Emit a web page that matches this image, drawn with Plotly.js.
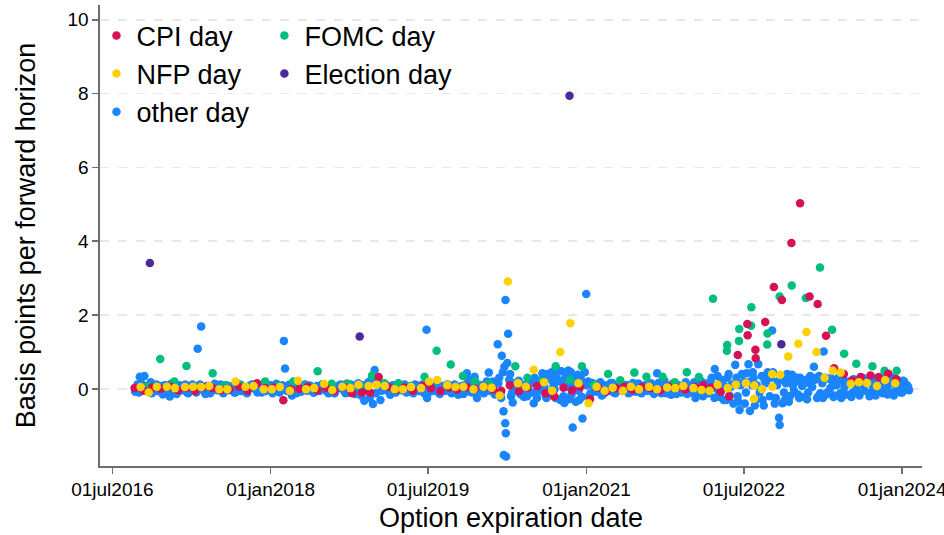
<!DOCTYPE html>
<html>
<head>
<meta charset="utf-8">
<script src="https://cdn.plot.ly/plotly-3.0.1.min.js"></script>
<style>html,body{margin:0;padding:0;background:#fff;}#chart{width:944px;height:535px;}</style>
</head>
<body>
<div id="chart"></div>
<script>
// ---- axis ticks ----
const xTickVals = ["2016-07-01","2018-01-01","2019-07-01","2021-01-01","2022-07-01","2024-01-01"];
const xTickText = ["01jul2016","01jan2018","01jul2019","01jan2021","01jul2022","01jan2024"];
const yTickVals = [0,2,4,6,8,10];

// ---- Election days ----
const electionDates = ["2016-11-08","2018-11-06","2020-11-03","2022-11-08"];
const electionVals  = [3.41, 1.42, 7.94, 1.21];

// ---- FOMC days ----
const fomcDates = ["2016-11-02","2016-12-14","2017-02-01","2017-03-15","2017-05-03","2017-06-14","2017-07-26","2017-09-20","2017-11-01","2017-12-13",
  "2018-01-31","2018-03-21","2018-05-02","2018-06-13","2018-08-01","2018-09-26","2018-11-08","2018-12-19",
  "2019-01-30","2019-03-20","2019-05-01","2019-06-19","2019-07-31","2019-09-18","2019-10-30","2019-12-11",
  "2020-01-29","2020-04-29","2020-06-10","2020-07-29","2020-09-16","2020-11-05","2020-12-16",
  "2021-01-27","2021-03-17","2021-04-28","2021-06-16","2021-07-28","2021-09-22","2021-11-03","2021-12-15",
  "2022-01-26","2022-03-16","2022-05-04","2022-05-03","2022-06-15","2022-06-14","2022-07-27","2022-07-26","2022-09-21","2022-09-20","2022-11-02","2022-12-14",
  "2023-02-01","2023-03-22","2023-05-03","2023-06-14","2023-07-26","2023-09-20","2023-11-01","2023-12-13"];
const fomcVals = [0.08,0.81,0.20,0.62,0.05,0.42,0.10,0.11,0.06,0.20,
  0.08,0.20,0.06,0.48,0.14,0.14,0.05,0.36,
  0.15,0.15,0.08,0.33,1.03,0.66,0.35,0.20,
  0.14,0.61,0.30,0.20,0.61,0.25,0.61,
  0.11,0.40,0.23,0.44,0.33,0.33,0.18,0.45,
  0.32,2.44,1.19,1.03,1.62,1.30,2.21,1.71,1.50,1.20,2.50,2.80,
  2.46,3.29,1.60,0.95,0.68,0.61,0.49,0.49];

// ---- CPI days ----
const cpiDates = ["2016-09-16","2016-10-18","2016-11-17","2016-12-15",
  "2017-01-18","2017-02-15","2017-03-15","2017-04-14","2017-05-12","2017-06-14","2017-07-14","2017-08-11","2017-09-14","2017-10-13","2017-11-15","2017-12-13",
  "2018-01-12","2018-02-14","2018-03-13","2018-04-11","2018-05-10","2018-06-12","2018-07-12","2018-08-10","2018-09-13","2018-10-11","2018-11-14","2018-12-12",
  "2019-01-11","2019-02-13","2019-03-12","2019-04-10","2019-05-10","2019-06-12","2019-07-11","2019-08-13","2019-09-12","2019-10-10","2019-11-13","2019-12-11",
  "2020-01-14","2020-02-13","2020-03-11","2020-04-10","2020-05-12","2020-06-10","2020-07-14","2020-08-12","2020-09-11","2020-10-13","2020-11-12","2020-12-10",
  "2021-01-13","2021-02-10","2021-03-10","2021-04-13","2021-05-12","2021-06-10","2021-07-13","2021-08-11","2021-09-14","2021-10-13","2021-11-10","2021-12-10",
  "2022-01-12","2022-02-10","2022-03-10","2022-04-12","2022-05-11","2022-06-10","2022-07-13","2022-07-14","2022-08-10","2022-08-11","2022-09-13","2022-10-13","2022-11-10","2022-12-13",
  "2023-01-12","2023-02-14","2023-03-14","2023-04-12","2023-05-10","2023-06-13","2023-07-12","2023-08-10","2023-09-13","2023-10-12","2023-11-14","2023-12-12"];
const cpiVals = [0.02,-0.05,0.04,0.00,
  0.06,-0.04,0.03,-0.06,0.05,0.02,-0.03,-0.01,0.06,-0.05,0.15,0.02,
  0.04,-0.31,-0.02,0.00,0.06,-0.04,0.03,-0.06,0.05,-0.12,-0.10,-0.10,
  0.32,0.05,-0.03,0.04,-0.05,0.08,0.02,-0.06,0.04,-0.02,0.05,0.00,
  0.06,-0.02,-0.05,0.10,-0.06,0.04,0.08,-0.12,-0.21,0.03,-0.04,0.05,
  -0.28,0.04,-0.07,0.02,0.06,-0.03,0.05,0.02,-0.04,0.06,0.03,-0.02,
  0.05,0.10,0.04,-0.08,-0.21,0.92,1.76,1.45,1.06,0.83,1.81,2.76,2.41,3.95,
  5.03,2.50,2.30,1.44,0.56,0.40,0.23,0.32,0.36,0.32,0.41,0.26];

// ---- NFP days ----
const nfpDates = ["2016-10-07","2016-11-04","2016-12-02",
  "2017-01-06","2017-02-03","2017-03-10","2017-04-07","2017-05-05","2017-06-02","2017-07-07","2017-08-04","2017-09-01","2017-10-06","2017-11-03","2017-12-08",
  "2018-01-05","2018-02-02","2018-03-09","2018-04-06","2018-05-04","2018-06-01","2018-07-06","2018-08-03","2018-09-07","2018-10-05","2018-11-02","2018-12-07",
  "2019-01-04","2019-02-01","2019-03-08","2019-04-05","2019-05-03","2019-06-07","2019-07-05","2019-08-02","2019-09-06","2019-10-04","2019-11-01","2019-12-06",
  "2020-01-10","2020-02-07","2020-03-06","2020-04-03","2020-05-08","2020-06-05","2020-07-02","2020-08-07","2020-09-04","2020-10-02","2020-11-06","2020-12-04",
  "2021-01-08","2021-02-05","2021-03-05","2021-04-02","2021-05-07","2021-06-04","2021-07-02","2021-08-06","2021-09-03","2021-10-08","2021-11-05","2021-12-03",
  "2022-01-07","2022-02-04","2022-03-04","2022-04-01","2022-05-06","2022-06-03","2022-07-08","2022-08-05","2022-08-06","2022-09-02","2022-10-07","2022-10-08","2022-11-04","2022-12-02",
  "2023-01-06","2023-02-03","2023-03-10","2023-04-07","2023-05-05","2023-06-02","2023-07-07","2023-08-04","2023-09-01","2023-10-06","2023-11-03","2023-12-08"];
const nfpVals = [0.05,-0.10,0.06,
  0.06,0.02,0.05,0.06,0.05,0.08,-0.01,-0.01,0.20,0.06,0.08,-0.01,
  -0.01,0.05,-0.05,0.22,-0.01,0.02,0.14,-0.03,0.06,0.02,0.11,0.08,
  0.11,0.08,-0.01,-0.01,0.05,0.02,0.20,0.24,0.10,0.05,0.06,-0.01,
  0.06,0.03,-0.18,2.91,0.15,0.06,0.52,0.18,-0.05,1.00,1.78,0.15,
  -0.39,0.06,-0.05,0.03,-0.05,0.06,-0.01,0.06,-0.01,0.04,0.02,0.08,
  0.02,-0.03,-0.05,0.11,0.02,0.11,0.15,-0.27,0.09,-0.01,0.40,0.06,0.38,0.88,
  1.22,1.54,1.00,0.30,0.50,0.44,0.14,0.18,0.16,0.08,0.24,0.15];

// ---- other days (part A) ----
const otherDatesA = [
  "2016-09-18","2016-09-26","2016-10-04","2016-10-12","2016-10-20","2016-10-28","2016-11-04","2016-11-15","2016-11-24","2016-12-05","2016-12-15","2016-12-23",
  "2017-01-05","2017-01-16","2017-01-25","2017-02-03","2017-02-13","2017-02-23","2017-03-06","2017-03-17","2017-03-27","2017-04-05","2017-04-13","2017-04-23",
  "2017-05-05","2017-05-15","2017-05-25","2017-06-05","2017-06-16","2017-06-26","2017-07-06","2017-07-17","2017-07-27","2017-08-07","2017-08-17","2017-08-28",
  "2017-09-07","2017-09-18","2017-09-27","2017-10-05","2017-10-16","2017-10-26","2017-11-06","2017-11-16","2017-11-27","2017-12-06","2017-12-15","2017-12-27",
  "2018-01-08","2018-01-18","2018-01-29","2018-02-07","2018-02-16","2018-02-20","2018-02-26","2018-03-07","2018-03-16","2018-03-27","2018-04-06","2018-04-17","2018-04-26",
  "2018-05-07","2018-05-17","2018-05-29","2018-06-07","2018-06-19","2018-06-28","2018-07-09","2018-07-19","2018-07-30","2018-08-08","2018-08-17","2018-08-28",
  "2018-09-07","2018-09-18","2018-09-27","2018-10-05","2018-10-16","2018-10-26","2018-11-06","2018-11-15","2018-11-22","2018-11-28","2018-12-06","2018-12-14","2018-12-22","2018-12-28",
  "2019-01-07","2019-01-17","2019-01-28","2019-02-06","2019-02-20","2019-02-27","2019-03-08","2019-03-19","2019-03-28","2019-04-08","2019-04-17","2019-04-29",
  "2019-05-08","2019-05-17","2019-05-29","2019-06-07","2019-06-18","2019-06-26","2019-06-28","2019-07-09","2019-07-18","2019-07-29","2019-08-07","2019-08-16","2019-08-28",
  "2019-09-06","2019-09-17","2019-09-27","2019-10-07","2019-10-14","2019-10-25","2019-11-05","2019-11-13","2019-11-25","2019-12-04","2019-12-10","2019-12-18","2019-12-27",
  "2020-01-08","2020-01-17","2020-01-28","2020-02-06","2020-02-14","2020-02-21","2020-02-28",
  "2020-03-04","2020-03-09","2020-03-13","2020-03-17","2020-03-19","2020-03-20","2020-03-25","2020-03-26","2020-03-27","2020-03-28",
  "2020-04-01","2020-04-04","2020-04-08","2020-04-14","2020-04-20","2020-04-28","2020-05-06","2020-05-14","2020-05-22","2020-05-29","2020-06-05","2020-06-12","2020-06-19","2020-06-26",
  "2020-07-02","2020-07-09","2020-07-16","2020-07-23","2020-07-30","2020-08-05","2020-08-08","2020-08-12","2020-08-19","2020-08-26","2020-08-30",
  "2020-09-02","2020-09-09","2020-09-12","2020-09-16","2020-09-23","2020-09-30","2020-10-02","2020-10-06","2020-10-13","2020-10-20","2020-10-24","2020-10-27",
  "2020-11-03","2020-11-06","2020-11-10","2020-11-14","2020-11-18","2020-11-25","2020-11-29","2020-12-02","2020-12-05","2020-12-09","2020-12-16","2020-12-18","2020-12-23","2020-12-31",
  "2021-01-07","2021-01-15","2021-01-25","2021-02-04","2021-02-12","2021-02-23","2021-03-05","2021-03-16","2021-03-26","2021-04-06","2021-04-16","2021-04-27",
  "2021-05-06","2021-05-17","2021-05-27","2021-06-07","2021-06-17","2021-06-28","2021-07-08","2021-07-19","2021-07-29","2021-08-09","2021-08-19","2021-08-30",
  "2021-09-03","2021-09-13","2021-09-24","2021-10-05","2021-10-15","2021-10-26","2021-11-04","2021-11-15","2021-11-26","2021-12-06","2021-12-16","2021-12-28",
  "2022-01-06","2022-01-14","2022-01-25","2022-02-03","2022-02-14","2022-02-24","2022-03-07","2022-03-22","2022-03-21","2022-03-29",
  "2022-04-05","2022-04-13","2022-04-22","2022-04-28","2022-05-05","2022-05-12","2022-05-20","2022-05-26","2022-06-01","2022-06-09","2022-06-16","2022-06-24",
  "2022-07-01","2022-07-08","2022-07-17","2022-07-22","2022-07-29","2022-08-04","2022-08-11","2022-08-20","2022-08-25",
  "2022-09-01","2022-09-08","2022-09-15","2022-09-22","2022-09-29","2022-10-03","2022-10-07","2022-10-20","2022-10-27",
  "2022-10-31","2022-11-02","2022-11-12","2022-11-14","2022-11-17","2022-11-24","2022-12-01","2022-12-08","2022-12-15","2022-12-22","2022-12-29",
  "2023-01-05","2023-01-12","2023-01-19","2023-01-26","2023-02-02","2023-02-09","2023-02-16","2023-02-23","2023-03-01","2023-03-09","2023-03-16","2023-03-23","2023-03-30",
  "2023-04-04","2023-04-13","2023-04-20","2023-04-27","2023-05-04","2023-05-11","2023-05-18","2023-05-25","2023-06-01","2023-06-08","2023-06-15","2023-06-22",
  "2023-07-06","2023-07-13","2023-07-20","2023-07-27","2023-08-03","2023-08-10","2023-08-17","2023-08-24","2023-09-07","2023-09-14","2023-09-21","2023-09-28",
  "2023-10-05","2023-10-12","2023-10-19","2023-10-26","2023-11-02","2023-11-09","2023-11-16","2023-11-23","2023-11-30","2023-12-07","2023-12-14","2023-12-21","2023-12-28",
  "2024-01-04","2024-01-11","2024-01-18","2024-01-25"];
const otherValsA = [
  -0.08,0.12,0.33,-0.02,0.35,0.06,0.10,-0.12,0.04,-0.06,0.08,-0.15,
  0.02,-0.21,0.06,-0.10,0.07,-0.04,0.05,-0.09,0.03,0.12,-0.05,1.09,
  1.69,-0.06,0.08,-0.12,0.02,0.06,0.10,-0.08,0.00,-0.04,0.07,-0.10,
  0.09,-0.02,0.05,-0.08,0.06,0.11,0.00,-0.10,0.07,0.05,-0.06,0.10,
  -0.12,0.04,0.08,0.02,1.30,0.55,-0.05,0.12,-0.18,0.02,0.06,-0.08,0.10,
  -0.05,0.09,-0.10,0.04,-0.06,0.12,0.08,-0.10,0.03,-0.07,0.05,0.10,
  0.02,-0.12,0.07,0.12,-0.04,0.06,-0.08,0.10,-0.32,0.02,0.18,-0.15,-0.41,0.51,
  0.22,-0.30,0.04,0.10,-0.16,0.05,-0.06,0.08,-0.02,0.06,-0.10,0.03,
  -0.08,0.12,-0.04,0.05,-0.12,1.60,-0.25,0.08,-0.06,0.10,-0.10,0.04,-0.05,
  0.12,-0.08,0.06,-0.04,-0.16,0.08,0.02,0.42,-0.08,0.10,0.33,-0.25,0.04,
  -0.06,0.12,0.44,0.06,-0.10,0.15,1.21,
  0.30,-0.12,0.90,0.45,-0.61,-1.79,-0.93,2.41,-1.20,-1.83,
  0.70,1.49,0.25,-0.20,-0.37,0.10,0.18,-0.12,0.05,-0.22,0.12,-0.06,0.20,-0.10,
  -0.39,0.14,-0.08,0.22,0.02,0.30,0.05,-0.18,0.40,-0.10,0.25,
  0.45,0.10,-0.02,-0.25,0.50,0.20,-0.30,0.48,-0.20,0.30,0.42,0.05,
  0.42,0.12,-0.15,-1.05,0.25,-0.35,0.35,0.38,-0.05,0.10,-0.22,-0.80,0.15,2.57,
  0.20,-0.12,0.06,-0.08,0.14,-0.18,0.10,-0.05,0.16,-0.10,0.05,0.12,
  -0.06,0.10,-0.12,0.08,-0.04,0.14,-0.10,0.06,-0.02,0.12,-0.08,0.04,
  0.42,-0.06,0.10,-0.12,0.06,0.14,-0.04,0.10,-0.10,0.08,-0.14,0.05,
  0.12,-0.25,0.06,-0.08,0.15,-0.12,0.20,0.54,-0.25,0.10,
  -0.15,0.25,-0.30,0.05,0.30,-0.18,0.12,-0.40,0.65,-0.20,-0.57,0.40,
  0.20,-0.10,0.67,-0.60,0.10,0.30,-0.30,0.67,-0.10,
  0.35,-0.45,0.15,0.45,-0.20,0.30,1.58,-0.25,0.20,
  -0.78,-0.98,-0.39,0.35,-0.10,0.15,0.28,-0.20,0.38,-0.05,0.20,
  -0.15,0.30,0.08,-0.22,0.25,-0.10,0.35,0.05,0.60,0.30,-0.20,-0.12,0.15,
  1.01,-0.15,0.28,0.02,0.20,-0.18,0.10,0.30,-0.12,0.22,0.05,-0.15,
  0.18,-0.10,0.25,0.02,-0.12,0.15,0.30,-0.05,0.20,-0.10,0.08,0.28,
  -0.08,0.18,0.05,-0.12,0.25,0.02,-0.10,0.15,0.30,-0.05,0.20,0.05,-0.10,
  0.22,0.02,0.10,-0.04];

// ---- other days (part B) ----
const otherDatesB = [
  "2016-10-01","2016-10-09","2016-10-24","2016-11-01","2016-11-11","2016-11-21","2016-12-01","2016-12-11","2016-12-20","2016-12-29",
  "2017-01-01","2017-01-11","2017-01-21","2017-02-01","2017-02-09","2017-02-19","2017-03-01","2017-03-11","2017-03-21","2017-04-01","2017-04-09","2017-04-18",
  "2017-05-01","2017-05-10","2017-05-20","2017-06-01","2017-06-11","2017-06-21","2017-07-01","2017-07-11","2017-07-21","2017-08-01","2017-08-11","2017-08-21",
  "2017-09-01","2017-09-11","2017-09-21","2017-10-01","2017-10-11","2017-10-21","2017-11-01","2017-11-11","2017-11-21","2017-12-01","2017-12-11","2017-12-21",
  "2018-01-01","2018-01-11","2018-01-21","2018-02-01","2018-02-11","2018-02-23","2018-03-01","2018-03-11","2018-03-21","2018-04-01","2018-04-11","2018-04-21",
  "2018-05-01","2018-05-11","2018-05-21","2018-06-01","2018-06-11","2018-06-21","2018-07-01","2018-07-11","2018-07-21","2018-08-01","2018-08-11","2018-08-21",
  "2018-09-01","2018-09-11","2018-09-21","2018-10-01","2018-10-11","2018-10-21","2018-11-01","2018-11-11","2018-11-25","2018-12-01","2018-12-11","2018-12-19",
  "2019-01-01","2019-01-11","2019-01-21","2019-02-01","2019-02-11","2019-02-23","2019-03-01","2019-03-11","2019-03-21","2019-04-01","2019-04-11","2019-04-21",
  "2019-05-01","2019-05-11","2019-05-21","2019-06-01","2019-06-11","2019-06-21","2019-07-01","2019-07-11","2019-07-21","2019-08-01","2019-08-11","2019-08-21",
  "2019-09-01","2019-09-11","2019-09-21","2019-10-01","2019-10-11","2019-10-21","2019-11-01","2019-11-09","2019-11-19","2019-12-01","2019-12-13","2019-12-21",
  "2020-01-01","2020-01-11","2020-01-21","2020-02-01","2020-02-11","2020-02-18","2020-03-01","2020-03-11","2020-03-22","2020-04-11","2020-04-18","2020-04-24",
  "2020-05-01","2020-05-11","2020-05-19","2020-06-01","2020-06-09","2020-06-22","2020-07-05","2020-07-13","2020-07-20","2020-08-01","2020-08-15","2020-08-22",
  "2020-09-05","2020-09-19","2020-09-26","2020-10-09","2020-10-16","2020-10-30","2020-11-01","2020-11-08","2020-11-21","2020-12-07","2020-12-12","2020-12-26",
  "2021-01-01","2021-01-11","2021-01-21","2021-02-01","2021-02-08","2021-02-18","2021-03-01","2021-03-11","2021-03-21","2021-04-01","2021-04-11","2021-04-21",
  "2021-05-01","2021-05-11","2021-05-21","2021-06-01","2021-06-11","2021-06-21","2021-07-01","2021-07-11","2021-07-23","2021-08-01","2021-08-13","2021-08-23",
  "2021-09-08","2021-09-18","2021-09-28","2021-10-01","2021-10-11","2021-10-21","2021-11-01","2021-11-09","2021-11-21","2021-12-01","2021-12-11","2021-12-21",
  "2022-01-01","2022-01-10","2022-01-20","2022-02-01","2022-02-09","2022-02-19","2022-03-01","2022-03-11","2022-03-25","2022-04-01","2022-04-09","2022-04-18",
  "2022-05-01","2022-05-09","2022-05-16","2022-06-05","2022-06-12","2022-06-20","2022-07-04","2022-07-11","2022-07-25","2022-08-01","2022-08-08","2022-08-15",
  "2022-09-04","2022-09-11","2022-09-19","2022-10-10","2022-10-16","2022-10-24","2022-11-05","2022-11-20","2022-11-28","2022-12-04","2022-12-11","2022-12-18",
  "2023-01-01","2023-01-09","2023-01-22","2023-02-05","2023-02-12","2023-02-19","2023-03-05","2023-03-12","2023-03-19","2023-04-01","2023-04-09","2023-04-16",
  "2023-05-01","2023-05-08","2023-05-15","2023-06-04","2023-06-11","2023-06-18","2023-07-02","2023-07-09","2023-07-16","2023-08-06","2023-08-13","2023-08-20",
  "2023-09-03","2023-09-10","2023-09-17","2023-10-01","2023-10-08","2023-10-15","2023-11-05","2023-11-12","2023-11-19","2023-12-03","2023-12-10","2023-12-17",
  "2024-01-01","2024-01-08","2024-01-22"];
const otherValsB = [
  -0.10,0.15,-0.05,0.05,0.18,-0.06,0.12,-0.02,0.05,0.10,
  0.10,-0.05,0.14,0.04,-0.14,0.10,-0.04,0.12,-0.12,0.02,0.08,-0.10,
  0.12,-0.02,-0.14,0.08,-0.06,0.14,-0.04,0.12,-0.12,0.10,-0.02,0.04,
  -0.10,0.13,-0.06,0.03,-0.12,0.08,0.12,0.04,-0.05,-0.10,0.12,-0.02,
  0.10,-0.04,0.14,-0.10,0.10,0.06,0.06,-0.06,0.14,-0.12,0.12,-0.02,
  0.12,-0.04,0.05,-0.10,0.08,-0.02,0.12,-0.04,-0.12,0.10,-0.12,0.02,
  0.12,-0.04,0.14,-0.10,0.10,-0.14,0.15,-0.18,0.05,0.08,-0.25,0.30,
  -0.12,0.12,-0.05,0.14,-0.06,-0.12,0.10,-0.10,0.14,-0.04,0.12,-0.08,
  0.06,-0.12,0.10,-0.06,0.12,0.04,-0.12,0.14,-0.02,0.10,-0.14,0.08,
  -0.04,0.10,-0.12,0.12,0.04,-0.10,-0.14,0.12,0.25,-0.10,0.18,-0.05,
  0.10,-0.12,0.20,-0.05,0.20,-0.15,0.15,-0.25,0.60,0.40,-0.10,0.15,
  -0.05,0.22,-0.15,0.10,-0.20,0.15,0.30,-0.25,0.12,0.42,-0.25,0.35,
  -0.12,0.30,0.48,0.22,-0.38,0.50,-0.28,0.45,0.00,-0.30,0.30,0.45,
  0.10,-0.18,0.16,0.10,-0.05,0.18,-0.14,0.08,-0.06,0.16,-0.12,0.02,
  0.14,-0.02,0.10,-0.10,0.16,-0.08,0.14,-0.12,0.10,-0.06,0.15,-0.14,
  0.16,-0.12,0.22,0.10,-0.04,-0.16,0.14,-0.14,0.08,-0.08,0.18,-0.02,
  -0.10,0.18,-0.16,0.22,-0.20,0.08,-0.12,0.30,0.02,0.35,-0.22,0.15,
  -0.30,0.40,0.05,0.30,-0.35,0.10,-0.40,0.42,0.20,0.45,-0.45,0.10,
  -0.30,0.25,0.38,0.45,-0.40,0.10,0.25,-0.30,0.40,-0.35,0.30,0.10,
  0.30,-0.25,0.20,-0.28,0.15,0.28,0.25,-0.25,0.35,-0.25,0.30,-0.10,
  0.28,-0.22,0.15,-0.25,0.26,0.10,0.20,-0.22,0.26,-0.18,0.25,0.10,
  0.22,-0.20,0.28,-0.18,0.26,0.12,0.30,-0.15,0.20,-0.18,0.26,0.10,
  -0.10,0.20,0.05];

// ---- styles ----
const colors = {cpi:"#d41159", fomc:"#00bf7d", nfp:"#ffd100", election:"#4b2a98", other:"#1a85ff"};
const msize = 8.5;

function mk(name, x, y, color, legend, rank) {
  return {type:"scatter", mode:"markers", name:name, x:x, y:y,
    marker:{color:color, size:msize, line:{width:0}},
    legend:legend, legendrank:rank, hoverinfo:"x+y"};
}

const data = [
  mk("other day", otherDatesA.concat(otherDatesB), otherValsA.concat(otherValsB), colors.other, "legend", 3),
  mk("FOMC day", fomcDates, fomcVals, colors.fomc, "legend2", 1),
  mk("CPI day", cpiDates, cpiVals, colors.cpi, "legend", 1),
  mk("NFP day", nfpDates, nfpVals, colors.nfp, "legend", 2),
  mk("Election day", electionDates, electionVals, colors.election, "legend2", 2)
];

const axisCol = "#6e6e6e";
const layout = {
  width:944, height:535,
  margin:{l:100, r:22, t:5, b:69},
  paper_bgcolor:"#ffffff", plot_bgcolor:"#ffffff",
  font:{family:"Liberation Sans, Arial, sans-serif", color:"#000000"},
  showlegend:true,
  xaxis:{type:"date", range:["2016-05-19","2024-03-10"],
    tickmode:"array", tickvals:xTickVals, ticktext:xTickText,
    ticks:"outside", ticklen:6, tickwidth:1.5, tickcolor:axisCol,
    showline:true, linecolor:axisCol, linewidth:1.6, mirror:false,
    showgrid:false, zeroline:false, automargin:false, ticklabeloverflow:"allow",
    tickfont:{size:19, color:"#000"},
    title:{text:"Option expiration date", font:{size:27, color:"#000"}, standoff:8}},
  yaxis:{range:[-2.09,10.4], tickmode:"array", tickvals:yTickVals,
    ticks:"outside", ticklen:6, tickwidth:1.5, tickcolor:axisCol,
    showline:true, linecolor:axisCol, linewidth:1.6,
    showgrid:true, gridcolor:"#e8e8e8", gridwidth:1.6, griddash:"dash",
    zeroline:false, automargin:false,
    tickfont:{size:19, color:"#000"},
    title:{text:"Basis points per forward horizon", font:{size:27, color:"#000"}, standoff:24}},
  legend:{x:-0.0043, y:0.986, xanchor:"left", yanchor:"top", bgcolor:"rgba(0,0,0,0)",
    font:{size:27, color:"#000"}, traceorder:"normal", itemclick:false, tracegroupgap:0},
  legend2:{x:0.2, y:0.986, xanchor:"left", yanchor:"top", bgcolor:"rgba(0,0,0,0)",
    font:{size:27, color:"#000"}, traceorder:"normal", itemclick:false, tracegroupgap:0},
  shapes:[{type:"rect", xref:"paper", yref:"paper", x0:0.003, x1:0.445, y0:0.725, y1:1.0,
    fillcolor:"#ffffff", line:{width:0}, layer:"between"}]
};

Plotly.newPlot("chart", data, layout, {displayModeBar:false, staticPlot:true});
</script>
</body>
</html>
